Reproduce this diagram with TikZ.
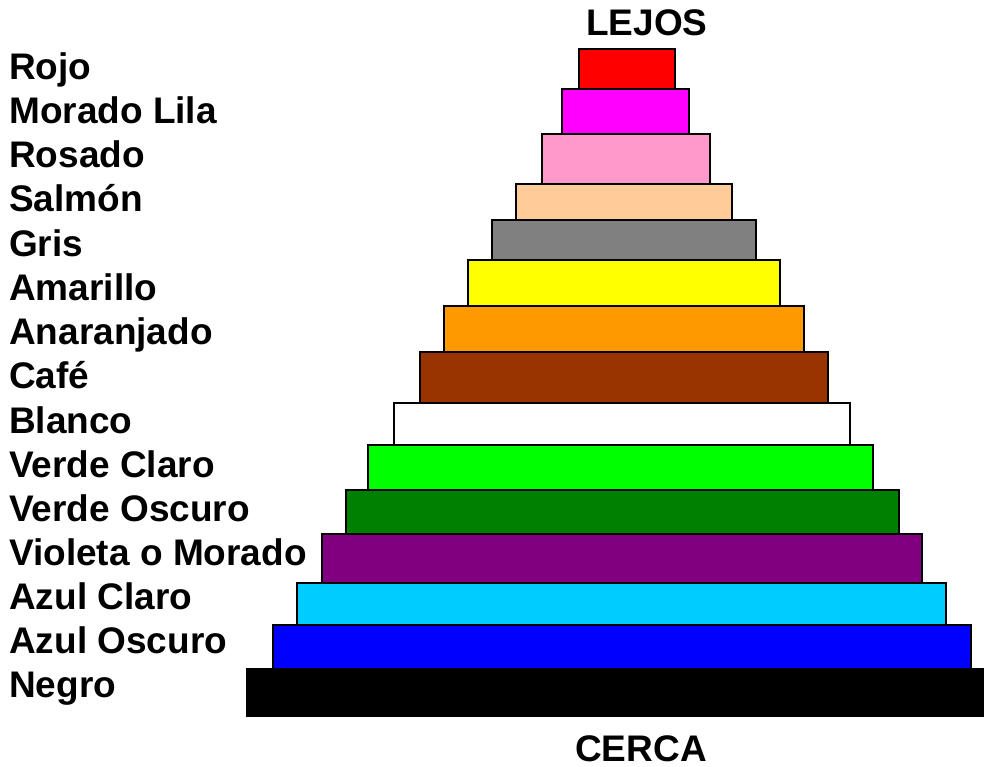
\documentclass[tikz,border=0pt]{standalone}
\usepackage{fontspec}
\setmainfont{Liberation Sans}
\usepackage{tikz}

\definecolor{rojo}{HTML}{FF0000}
\definecolor{lila}{HTML}{FF00FF}
\definecolor{rosado}{HTML}{FF99CC}
\definecolor{salmon}{HTML}{FFCC99}
\definecolor{gris}{HTML}{808080}
\definecolor{amarillo}{HTML}{FFFF00}
\definecolor{naranja}{HTML}{FF9900}
\definecolor{cafe}{HTML}{993300}
\definecolor{verdecl}{HTML}{00FF00}
\definecolor{verdeos}{HTML}{008000}
\definecolor{violeta}{HTML}{800080}
\definecolor{azulcl}{HTML}{00CCFF}
\definecolor{azulos}{HTML}{0000FF}

\tikzset{
  bar/.style={draw=black, line width=1.5pt},
  lbl/.style={anchor=base west, inner sep=0pt, font=\fontsize{37}{40}\selectfont\bfseries},
}

\begin{document}
\begin{tikzpicture}[x=1pt, y=-1pt]
      \useasboundingbox (0,0) rectangle (984,767);
      % barras
      \draw[bar, fill=rojo] (579,49) rectangle (675,89);
      \draw[bar, fill=lila] (562,89) rectangle (689,134);
      \draw[bar, fill=rosado] (542,134) rectangle (710,184);
      \draw[bar, fill=salmon] (516,184) rectangle (732,220);
      \draw[bar, fill=gris] (492,220) rectangle (756,260);
      \draw[bar, fill=amarillo] (468,260) rectangle (780,306);
      \draw[bar, fill=naranja] (444,306) rectangle (804,352);
      \draw[bar, fill=cafe] (420,352) rectangle (828,403);
      \draw[bar, fill=white] (394,403) rectangle (850,445);
      \draw[bar, fill=verdecl] (368,445) rectangle (873,490);
      \draw[bar, fill=verdeos] (346,490) rectangle (899,534);
      \draw[bar, fill=violeta] (322,534) rectangle (922,583);
      \draw[bar, fill=azulcl] (297,583) rectangle (946,625);
      \draw[bar, fill=azulos] (273,625) rectangle (971,669);
      \draw[bar, fill=black] (247,669) rectangle (990,716);
      % nombres
      \node[lbl] (rojo) at (9,80) {Rojo};
      \node[lbl] (lila) at (9,124) {Morado Lila};
      \node[lbl] (rosado) at (9,168) {Rosado};
      \node[lbl] (salmon) at (9,212) {Salmón};
      \node[lbl] (gris) at (9,256) {Gris};
      \node[lbl] (amarillo) at (9,300.5) {Amarillo};
      \node[lbl] (naranja) at (9,344.5) {Anaranjado};
      \node[lbl] (cafe) at (9,388.5) {Café};
      \node[lbl] (blanco) at (9,433) {Blanco};
      \node[lbl] (verdecl) at (9,477) {Verde Claro};
      \node[lbl] (verdeos) at (9,521) {Verde Oscuro};
      \node[lbl] (violeta) at (9,565) {Violeta o Morado};
      \node[lbl] (azulcl) at (9,609.5) {Azul Claro};
      \node[lbl] (azulos) at (9,653.5) {Azul Oscuro};
      \node[lbl] (negro) at (9,697.5) {Negro};
      % arriba y abajo
      \node[lbl, anchor=base] (lejos) at (647,36) {LEJOS};
      \node[lbl, anchor=base] (cerca) at (641,761) {CERCA};
\end{tikzpicture}
\end{document}
